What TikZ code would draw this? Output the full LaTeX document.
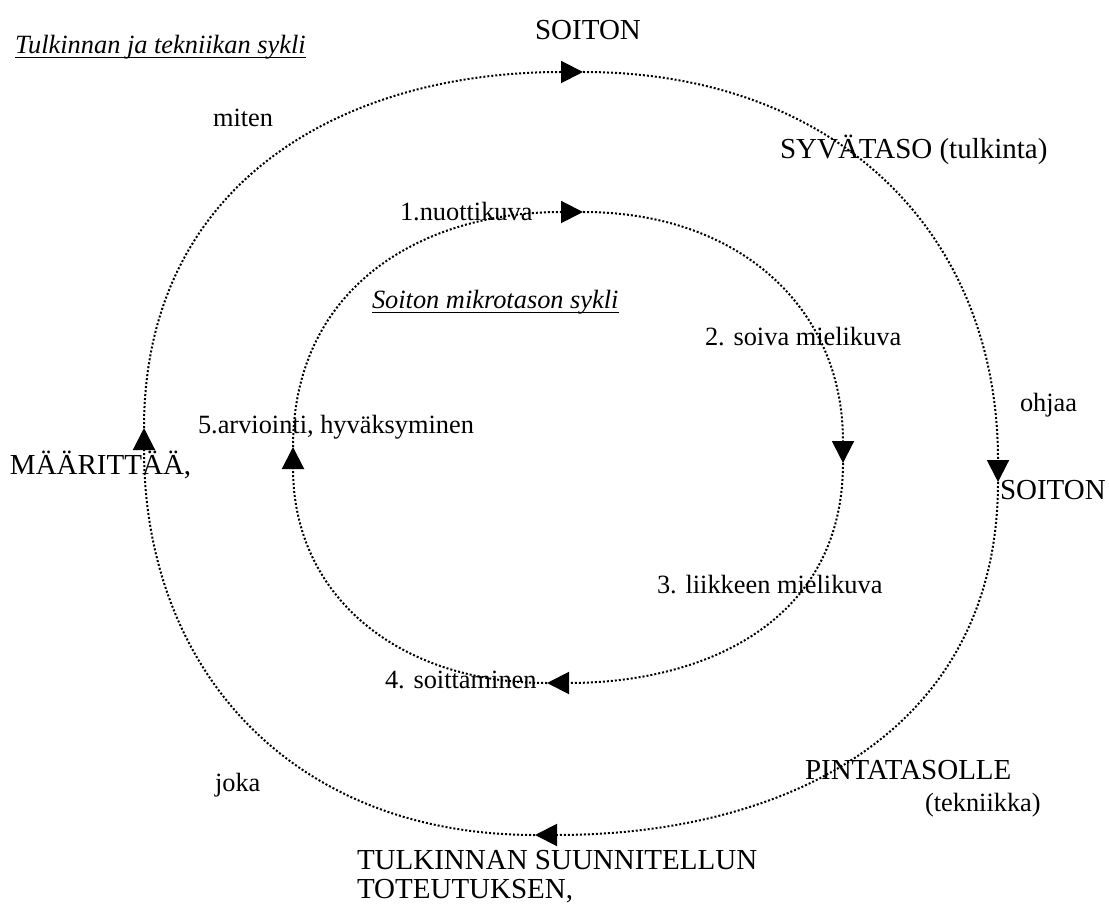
\documentclass[tikz,border=0pt]{standalone}
\usepackage{fontspec}
\setmainfont{Liberation Serif}
\usetikzlibrary{positioning, arrows.meta}

\begin{document}
\begin{tikzpicture}[
  x=0.2mm, y=0.2mm,
  every node/.style={inner sep=0pt, outer sep=0pt, anchor=west},
  cycleedge/.style={line width=0.4mm, dash pattern=on 0.4mm off 0.4mm, looseness=1.1,
    -{Triangle[length=4.4mm, width=4.4mm]}},
  underl/.style={line width=0.3mm},
  bigtext/.style={font=\fontsize{16.5}{19}\selectfont},
  smalltext/.style={font=\fontsize{15}{18}\selectfont},
  titletext/.style={font=\fontsize{15}{18}\selectfont\itshape}
]
\useasboundingbox (0,0) rectangle (1109,913);

% outer cycle
\coordinate (otop)   at (583,841);
\coordinate (oright) at (998,431);
\coordinate (obot)   at (535,78);
\coordinate (oleft)  at (144,485);

\draw[cycleedge] (oleft)  to[out=90,in=180]  (otop);
\draw[cycleedge] (otop)   to[out=0,in=90]    (oright);
\draw[cycleedge] (oright) to[out=-90,in=0]   (obot);
\draw[cycleedge] (obot)   to[out=180,in=-90] (oleft);

% inner cycle
\coordinate (itop)   at (583,701);
\coordinate (iright) at (843,450);
\coordinate (ibot)   at (547,230);
\coordinate (ileft)  at (293,466);

\draw[cycleedge] (ileft)  to[out=90,in=180]  (itop);
\draw[cycleedge] (itop)   to[out=0,in=90]    (iright);
\draw[cycleedge] (iright) to[out=-90,in=0]   (ibot);
\draw[cycleedge] (ibot)   to[out=180,in=-90] (ileft);

% labels
\node[titletext] (outertitle) at (15,866) {Tulkinnan ja tekniikan sykli};
\draw[underl] ([yshift=-0.8mm]outertitle.base west) -- ([yshift=-0.8mm]outertitle.base east);
\node[bigtext, anchor=center] (soitontop) at (588,883) {SOITON};
\node[smalltext] (miten) at (213,795) {miten};
\node[bigtext] (syva) at (780,763) {SYVÄTASO (tulkinta)};
\node[smalltext] (nuotti) at (400,701) {1.nuottikuva};
\node[titletext] (innertitle) at (372,611) {Soiton mikrotason sykli};
\draw[underl] ([yshift=-0.8mm]innertitle.base west) -- ([yshift=-0.8mm]innertitle.base east);
\node[smalltext] (soiva) at (705,576) {2. soiva mielikuva};
\node[smalltext] (ohjaa) at (1020,508) {ohjaa};
\node[smalltext] (arvio) at (198,486) {5.arviointi, hyväksyminen};
\node[bigtext] (maar) at (10,448) {MÄÄRITTÄÄ,};
\node[bigtext] (soitonright) at (1000,423) {SOITON};
\node[smalltext] (liike) at (657,328) {3. liikkeen mielikuva};
\node[smalltext] (soitt) at (385,233) {4. soittaminen};
\node[smalltext] (joka) at (215,128) {joka};
\node[bigtext] (pinta) at (805,143) {PINTATASOLLE};
\node[smalltext] (tekn) at ([xshift=24mm, yshift=-7mm]pinta.west) {(tekniikka)};
\node[bigtext] (tulk) at (357,53) {TULKINNAN SUUNNITELLUN};
\node[bigtext, below=2mm of tulk.south west, anchor=north west] (tot) {TOTEUTUKSEN,};
\end{tikzpicture}
\end{document}
